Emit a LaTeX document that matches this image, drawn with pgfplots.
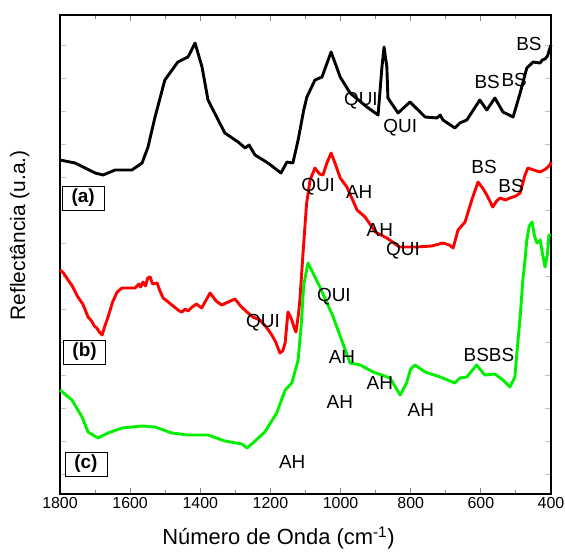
\documentclass[border=0pt]{standalone}
\usepackage{pgfplots}
\pgfplotsset{compat=1.18}
\usepackage{fontspec}
\setmainfont{Liberation Sans}

\definecolor{vred}{RGB}{255,0,0}
\definecolor{vgreen}{RGB}{0,240,0}

\begin{document}
\begin{tikzpicture}
  % fix the page to the reference size (1bp ~ 1px)
  \useasboundingbox (-60bp,-59bp) rectangle (505bp,494bp);
  \begin{axis}[
      scale only axis,
      width=491bp, height=479bp,
      x dir=reverse,
      xmin=400, xmax=1800,
      ymin=0, ymax=479,
      xtick={400,600,...,1800},
      minor xtick={500,700,...,1700},
      ytick={20,53,...,449},
      yticklabels={},
      tick align=inside,
      major tick length=6bp,
      minor tick length=4bp,
      y tick style={line width=0.3pt, black!25},
      axis line style={line width=1.2pt},
      x tick style={line width=1pt},
      /pgf/number format/assume math mode=true,
      /pgf/number format/1000 sep={},
      xticklabel style={font=\fontsize{16}{18}\selectfont},
      xlabel={Número de Onda (cm\textsuperscript{-1})},
      ylabel={Reflectância (u.a.)},
      xlabel style={font=\fontsize{22}{24}\selectfont, at={(axis description cs:0.445,-0.092)}, anchor=center},
      ylabel style={font=\fontsize{21}{23}\selectfont, at={(axis description cs:-0.082,0.54)}, anchor=center},
      every axis plot/.append style={line width=2.9bp, line join=round},
      clip=false,
  ]

  % (a) black spectrum
  \addplot[black] coordinates {
    (1800,334) (1757,331) (1700,321) (1677,319) (1643,324) (1595,324)
    (1566,331) (1549,347) (1529,377) (1501,414) (1464,432) (1435,437)
    (1415,451) (1395,427) (1378,394) (1330,361) (1292,352) (1272,346)
    (1261,349) (1244,339) (1207,331) (1170,321) (1153,332) (1136,331)
    (1121,354) (1105,384) (1096,397) (1073,414) (1053,417) (1027,442)
    (1001,417) (973,401) (925,387) (893,379) (882,427) (876,447)
    (868,427) (865,396) (836,381) (802,392) (759,377) (725,376)
    (716,379) (708,374) (674,366) (660,371) (640,374) (603,394)
    (583,384) (560,396) (537,382) (508,377) (488,401) (469,426)
    (451,432) (431,431) (425,434) (417,435) (410,438) (403,446) (400,449)
  };

  % (b) red spectrum
  \addplot[vred] coordinates {
    (1800,224) (1790,221) (1777,214) (1765,208) (1749,197) (1735,190)
    (1728,184) (1720,177) (1710,173) (1702,168) (1695,166) (1688,162)
    (1680,159) (1672,168) (1663,177) (1650,192) (1637,202) (1623,206)
    (1605,206) (1586,206) (1575,210) (1570,207) (1563,212) (1556,208)
    (1550,216) (1543,217) (1536,210) (1523,211) (1515,203) (1506,196)
    (1495,193) (1481,189) (1470,186) (1460,183) (1452,182) (1443,185)
    (1435,183) (1423,187) (1411,190) (1396,186) (1385,193) (1372,201)
    (1355,193) (1339,189) (1320,192) (1301,195) (1285,188) (1267,182)
    (1250,177) (1230,174) (1212,167) (1196,159) (1185,152) (1173,141)
    (1165,143) (1158,151) (1150,182) (1144,178) (1139,174) (1132,166)
    (1127,162) (1120,180) (1116,194) (1107,241) (1097,290) (1087,314)
    (1073,326) (1060,320) (1050,319) (1040,330) (1027,341) (1015,330)
    (1001,316) (982,307) (953,284) (930,277) (901,262) (868,256)
    (832,247) (784,247) (740,248) (708,251) (690,249) (679,246)
    (665,264) (645,272) (625,295) (608,312) (595,306) (583,299)
    (566,287) (555,293) (545,296) (530,294) (517,296) (500,298)
    (488,301) (475,318) (466,326) (450,324) (431,322) (415,325)
    (403,329) (400,332)
  };

  % (c) green spectrum
  \addplot[vgreen] coordinates {
    (1800,104) (1766,94) (1737,77) (1720,62) (1692,56) (1663,61)
    (1623,66) (1566,68) (1529,67) (1481,61) (1435,59) (1378,59)
    (1330,53) (1281,50) (1267,46) (1250,51) (1216,62) (1182,81)
    (1158,104) (1139,111) (1121,134) (1112,170) (1105,209) (1093,231)
    (1080,222) (1059,207) (1021,177) (973,131) (944,129) (907,122)
    (859,116) (830,99) (812,111) (800,125) (788,129) (759,122)
    (716,117) (674,111) (660,116) (640,117) (612,129) (589,119)
    (560,120) (537,114) (517,107) (503,117) (495,150) (488,177)
    (480,215) (474,234) (469,254) (462,268) (454,272) (447,258)
    (440,251) (431,254) (424,240) (417,227) (410,240) (406,259) (400,259)
  };

  % labels of the spectra
  \begin{scope}[every node/.style={draw, line width=0.8pt, fill=white,
      minimum width=42bp, minimum height=24bp, inner sep=0pt,
      font=\fontsize{19}{21}\selectfont\bfseries}]
    \node at (axis cs:1734,296) {(a)};
    \node at (axis cs:1730,142) {(b)};
    \node at (axis cs:1726,30) {(c)};
  \end{scope}

  % band assignments
  \begin{scope}[every node/.style={inner sep=0pt, font=\fontsize{19}{21}\selectfont}]
    \node at (axis cs:463,450) {BS};
    \node at (axis cs:582,412) {BS};
    \node at (axis cs:505,414) {BS};
    \node at (axis cs:942,393) {QUI};
    \node at (axis cs:830,366) {QUI};
    \node at (axis cs:1064,307) {QUI};
    \node at (axis cs:947,302) {AH};
    \node at (axis cs:888,264) {AH};
    \node at (axis cs:822,243) {QUI};
    \node at (axis cs:591,327) {BS};
    \node at (axis cs:514,308) {BS};
    \node at (axis cs:1221,171) {QUI};
    \node at (axis cs:1019,197) {QUI};
    \node at (axis cs:996,137) {AH};
    \node at (axis cs:888,111) {AH};
    \node at (axis cs:1002,92) {AH};
    \node at (axis cs:771,84) {AH};
    \node at (axis cs:577,139) {BSBS};
    \node at (axis cs:1138,32) {AH};
  \end{scope}

  \end{axis}
\end{tikzpicture}
\end{document}
